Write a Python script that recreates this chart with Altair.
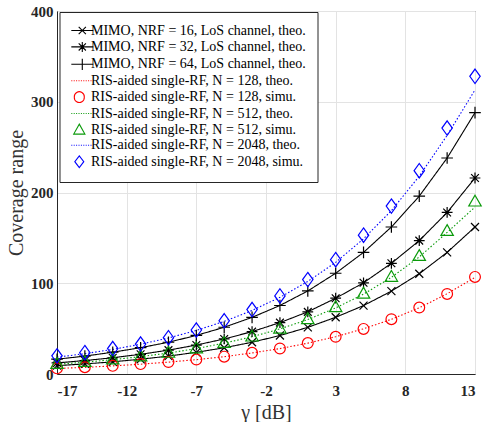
import altair as alt
import pandas as pd

# ---------------- data ----------------
gamma = [-17, -15, -13, -11, -9, -7, -5, -3, -1, 1, 3, 5, 7, 9, 11, 13]

mimo_16 = [9.2, 11.1, 13.4, 16.3, 19.7, 23.9, 28.9, 35.0, 42.4, 51.4, 62.5, 75.4, 91.3, 110.5, 134, 162]
mimo_32 = [12.2, 14.8, 17.9, 21.7, 26.3, 31.9, 38.6, 46.7, 56.6, 68.5, 83.5, 100.5, 122, 147, 178, 216]
mimo_64 = [16.3, 19.7, 24.0, 29.0, 35.0, 42.5, 51.5, 62.4, 75.5, 91.5, 111, 134, 162, 196, 238, 288]
ris128_theo = [6.1, 7.3, 8.9, 10.8, 13.1, 15.8, 19.1, 23.2, 28.0, 34.0, 41.1, 49.8, 60.3, 73.0, 88.4, 106.5]
ris128_simu = [6.2, 7.5, 9.0, 10.9, 13.2, 15.9, 19.1, 23.3, 28.1, 34.1, 41.0, 49.7, 60.4, 73.2, 88.2, 107]
ris512_theo = [10.8, 13.0, 15.8, 19.1, 23.1, 28.0, 34.0, 41.0, 49.7, 60.0, 72.8, 88.0, 106.5, 129, 156, 184]
ris512_simu = [11.0, 13.2, 16.0, 19.3, 23.3, 28.2, 34.2, 41.2, 50.0, 60.4, 73.6, 88.5, 107, 130, 157.5, 190]
ris2048_theo = [18.5, 22.4, 27.1, 32.8, 39.7, 48.0, 58.0, 70.0, 84.5, 102, 123, 149, 180, 218, 263, 313]
ris2048_simu = [20.0, 23.5, 28.0, 33.0, 40.0, 48.5, 58.7, 71.0, 86.0, 104, 126, 153, 185, 224, 271, 328]

labels = [
    "MIMO, NRF = 16, LoS channel, theo.",
    "MIMO, NRF = 32, LoS channel, theo.",
    "MIMO, NRF = 64, LoS channel, theo.",
    "RIS-aided single-RF, N = 128, theo.",
    "RIS-aided single-RF, N = 128, simu.",
    "RIS-aided single-RF, N = 512, theo.",
    "RIS-aided single-RF, N = 512, simu.",
    "RIS-aided single-RF, N = 2048, theo.",
    "RIS-aided single-RF, N = 2048, simu.",
]
x_ticks = [-17, -12, -7, -2, 3, 8, 13]
y_ticks = [0, 100, 200, 300, 400]

# ---------------- styles ----------------
BLACK, RED, GREEN, BLUE = "#000000", "#ff0000", "#0a9a0a", "#0000ff"


def f(v):
    return ("%.2f" % v).rstrip("0").rstrip(".")


def p_x(s, c=0.0):
    return "M%s,%sL%s,%sM%s,%sL%s,%s" % (f(c - s), f(-s), f(c + s), f(s), f(c - s), f(s), f(c + s), f(-s))


def p_plus(s, c=0.0):
    return "M%s,0L%s,0M%s,%sL%s,%s" % (f(c - s), f(c + s), f(c), f(-s), f(c), f(s))


def p_ast(s, c=0.0):
    d = s * 0.72
    return p_plus(s, c) + p_x(d, c)


def p_circ(r, c=0.0):
    return "M%s,0A%s,%s,0,1,1,%s,0A%s,%s,0,1,1,%s,0Z" % (f(c + r), f(r), f(r), f(c - r), f(r), f(r), f(c + r))


def p_tri(w, top, bot, c=0.0):
    return "M%s,%sL%s,%sL%s,%sZ" % (f(c), f(-top), f(c + w), f(bot), f(c - w), f(bot))


def p_dia(w, h, c=0.0):
    return "M%s,%sL%s,0L%s,%sL%s,0Z" % (f(c), f(-h), f(c + w), f(c), f(h), f(c - w))


# plot markers: unit = 2 px (size 16)
pt_shapes = [p_x(2.0), p_ast(2.7), p_plus(2.9), p_circ(2.7), p_tri(3.1, 3.2, 2.2), p_dia(2.6, 3.6)]

# legend glyphs: line + marker, unit = LU px
LU = 3.0
L0 = -1.0 - 3.7 / LU
L1 = L0 + 22.0 / LU
LC = (L0 + L1) / 2
MC = LC - 3.0 / LU      # centre used by marker-only glyphs


def solid():
    return "M%s,0L%s,0" % (f(L0), f(L1))


def dotted():
    s, x = "", L0
    while x < L1:
        s += "M%s,0L%s,0" % (f(x), f(min(x + 1.0 / LU, L1)))
        x += 2.4 / LU
    return s


legend_paths = [
    solid() + p_x(3.6 / LU, LC),
    solid() + p_ast(5.0 / LU, LC),
    solid() + p_plus(5.6 / LU, LC),
    dotted(),
    p_circ(5.0 / LU, MC),
    dotted(),
    p_tri(5.6 / LU, 5.8 / LU, 4.2 / LU, MC),
    dotted(),
    p_dia(4.5 / LU, 5.8 / LU, MC),
]
legend_colors = [BLACK, BLACK, BLACK, RED, RED, GREEN, GREEN, BLUE, BLUE]

line_names = [labels[0], labels[1], labels[2], labels[3], labels[5], labels[7]]
line_vals = [mimo_16, mimo_32, mimo_64, ris128_theo, ris512_theo, ris2048_theo]
line_colors = [BLACK, BLACK, BLACK, RED, GREEN, BLUE]
line_dash = [[1, 0], [1, 0], [1, 0], [1.5, 2], [1.5, 2], [1.5, 2]]

pt_names = [labels[0], labels[1], labels[2], labels[4], labels[6], labels[8]]
pt_vals = [mimo_16, mimo_32, mimo_64, ris128_simu, ris512_simu, ris2048_simu]
pt_colors = [BLACK, BLACK, BLACK, RED, GREEN, BLUE]

line_df = pd.DataFrame([
    {"series": n, "gamma": g, "value": v}
    for n, vals in zip(line_names, line_vals) for g, v in zip(gamma, vals)
])
pt_df = pd.DataFrame([
    {"pseries": n, "gamma": g, "value": v}
    for n, vals in zip(pt_names, pt_vals) for g, v in zip(gamma, vals)
])
leg_df = pd.DataFrame({"label": labels})

FONT = "Liberation Serif"

xenc = alt.X("gamma:Q", scale=alt.Scale(domain=[-17, 13], nice=False, zero=False),
             axis=alt.Axis(values=x_ticks, title="γ [dB]", labelExpr="datum.value + ''"))
yenc = alt.Y("value:Q", scale=alt.Scale(domain=[0, 400], nice=False),
             axis=alt.Axis(values=y_ticks, title="Coverage range"))

lines = alt.Chart(line_df).mark_line(strokeWidth=1.1, clip=True).encode(
    x=xenc, y=yenc,
    color=alt.Color("series:N", scale=alt.Scale(domain=line_names, range=line_colors), legend=None),
    strokeDash=alt.StrokeDash("series:N", scale=alt.Scale(domain=line_names, range=line_dash), legend=None),
)

points = alt.Chart(pt_df).mark_point(filled=False, size=16, strokeWidth=1.2, opacity=1).encode(
    x=xenc, y=yenc,
    color=alt.Color("pseries:N", scale=alt.Scale(domain=pt_names, range=pt_colors), legend=None),
    shape=alt.Shape("pseries:N", scale=alt.Scale(domain=pt_names, range=pt_shapes), legend=None),
)

leg = alt.Legend(
    orient="none", legendX=2.5, legendY=1, title=None,
    symbolSize=36, symbolStrokeWidth=1.1, symbolOpacity=1,
    labelOffset=6, padding=11.5, rowPadding=1.4,
    labelFont=FONT, labelFontSize=14, labelColor="#000000", labelLimit=400,
    strokeColor="#262626", fillColor="#ffffff", cornerRadius=0,
)
legend_layer = alt.Chart(leg_df).mark_point(filled=False, size=36, strokeWidth=1.1, opacity=0).encode(
    color=alt.Color("label:N", scale=alt.Scale(domain=labels, range=legend_colors), legend=leg),
    shape=alt.Shape("label:N", scale=alt.Scale(domain=labels, range=legend_paths), legend=leg),
)

chart = alt.layer(lines, points, legend_layer).resolve_scale(
    color="independent", shape="independent", strokeDash="independent"
).properties(
    width=418, height=363,
    padding={"left": 57, "top": 11, "right": 8, "bottom": 48},
    autosize=alt.AutoSizeParams(type="none"),
    background="white",
).configure_view(
    stroke="#404040", strokeWidth=1,
).configure_axis(
    grid=True, gridColor="#e3e3e3", gridWidth=1,
    domainColor="#262626", ticks=False,
    labelFont=FONT, labelFontSize=15, labelFontWeight="bold", labelColor="#262626",
    titleFont=FONT, titleFontSize=20, titleFontWeight="normal", titleColor="#333333",
).configure_axisX(
    labelPadding=9, titlePadding=4,
).configure_axisY(
    labelPadding=4, titlePadding=4,
).configure_legend(
    labelFont=FONT, labelFontSize=14,
)

chart.save("out.html", embed_options={"renderer": "svg", "actions": False})
